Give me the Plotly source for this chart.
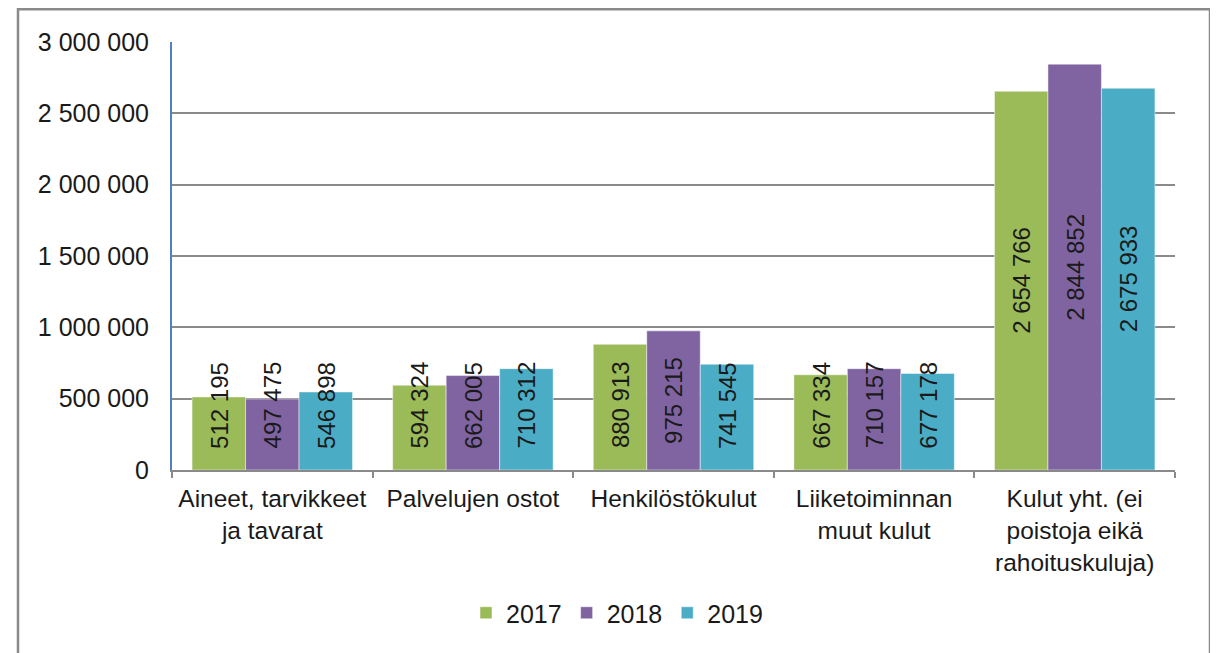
import plotly.graph_objects as go

categories = [
    "Aineet, tarvikkeet<br>ja tavarat",
    "Palvelujen ostot",
    "Henkilöstökulut",
    "Liiketoiminnan<br>muut kulut",
    "Kulut yht. (ei<br>poistoja eikä<br>rahoituskuluja)",
]
years = ["2017", "2018", "2019"]
values_2017 = [512195, 594324, 880913, 667334, 2654766]
values_2018 = [497475, 662005, 975215, 710157, 2844852]
values_2019 = [546898, 710312, 741545, 677178, 2675933]
colors = ["#9BBB59", "#8064A2", "#4BACC6"]
y_ticks = [0, 500000, 1000000, 1500000, 2000000, 2500000, 3000000]

series = [values_2017, values_2018, values_2019]

W, H = 1218, 653
ML, MR, MT, MB = 164, 51, 34, 191
FONT = "Liberation Sans, Arial, sans-serif"
BARGAP = 0.2
LABEL_MIN_CENTER = 455000  # labels of short bars are kept above the axis

fig = go.Figure()
for name, vals, col in zip(years, series, colors):
    fig.add_trace(go.Bar(
        x=categories, y=vals, name=name,
        marker=dict(color=col, line=dict(color="rgba(255,255,255,0.6)", width=0.8)),
        hoverinfo="x+y",
    ))

# value labels (rotated), centred on the bar
plot_w = W - ML - MR
plot_h = H - MT - MB
cat_w = plot_w / len(categories)
bar_w = cat_w * (1 - BARGAP) / len(series)
for i, vals in enumerate(series):
    for cat, v in zip(categories, vals):
        label = f"{v:,}".replace(",", " ")
        fig.add_annotation(
            x=cat, y=max(v / 2, LABEL_MIN_CENTER), xref="x", yref="y",
            text=label, textangle=-90, showarrow=False,
            xshift=(i - 1) * bar_w, xanchor="center", yanchor="middle",
            font=dict(family=FONT, size=24, color="#1a1a1a"),
        )

# outer chart border
fig.add_shape(
    type="rect", xref="paper", yref="paper",
    x0=(10 - ML) / plot_w, x1=(1202 - ML) / plot_w,
    y0=(H - MB - 670) / plot_h, y1=(H - MB - 1.3) / plot_h,
    line=dict(color="#8a8a8a", width=2.5), fillcolor="rgba(0,0,0,0)", layer="below",
)

fig.update_layout(
    width=W, height=H,
    margin=dict(l=ML, r=MR, t=MT, b=MB, autoexpand=False),
    paper_bgcolor="white", plot_bgcolor="white",
    barmode="group", bargap=BARGAP, bargroupgap=0,
    separators=", ",
    font=dict(family=FONT, size=25, color="#1a1a1a"),
    showlegend=True,
    legend=dict(
        orientation="h", x=(609 - ML) / plot_w, xanchor="center",
        y=(H - MB - 605) / plot_h, yanchor="middle",
        font=dict(family=FONT, size=25, color="#1a1a1a"),
        itemwidth=30, traceorder="normal",
    ),
    xaxis=dict(
        type="category", showline=True, linecolor="#8a8a8a", linewidth=2,
        ticks="outside", tickson="boundaries", ticklen=6, tickwidth=2, tickcolor="#8a8a8a",
        showgrid=False, tickangle=0, ticklabelstandoff=6,
        tickfont=dict(family=FONT, size=24.5, color="#1a1a1a"),
        fixedrange=True,
    ),
    yaxis=dict(
        range=[0, 3000000], tickvals=y_ticks, tickformat=",d",
        showline=True, linecolor="#4F81BD", linewidth=2,
        showgrid=True, gridcolor="#8a8a8a", gridwidth=2,
        zeroline=False, ticks="", ticklabelstandoff=16,
        tickfont=dict(family=FONT, size=25, color="#1a1a1a"),
        fixedrange=True,
    ),
)

fig.write_html("out.html")
